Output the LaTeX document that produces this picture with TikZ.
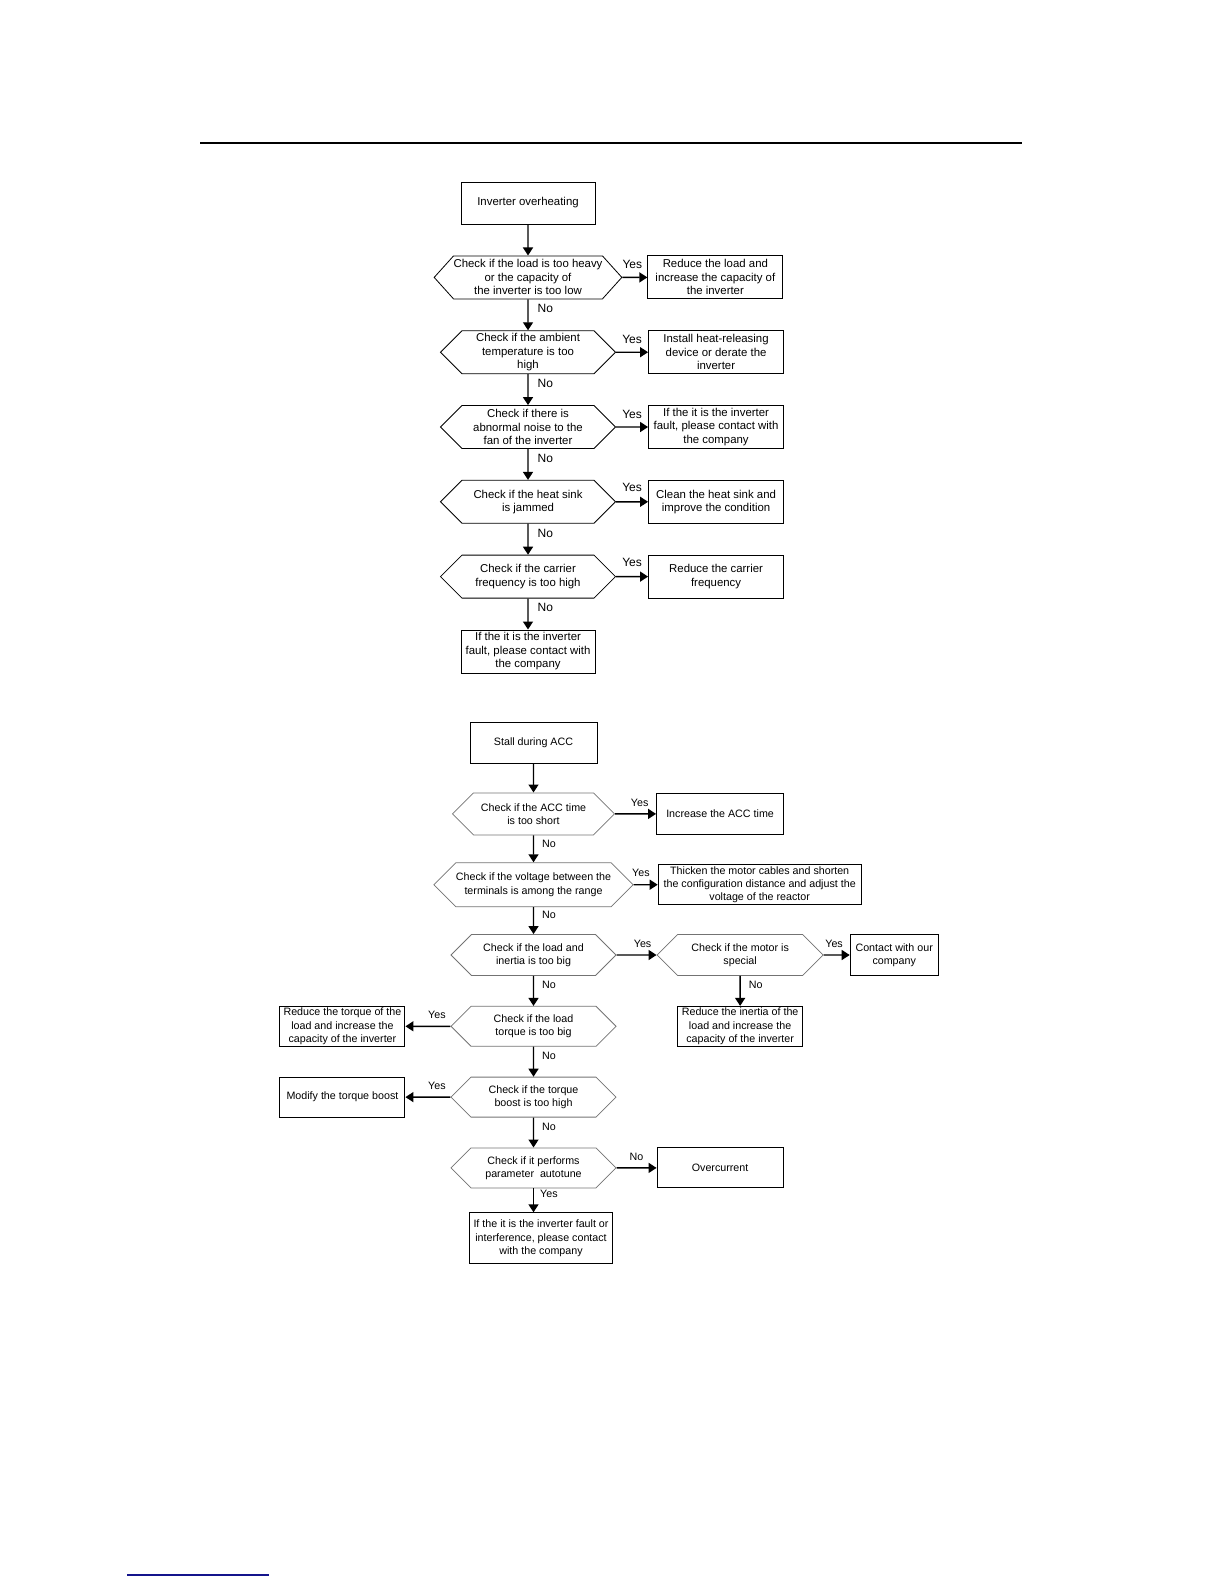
\documentclass[tikz,border=0pt]{standalone}
\usepackage{fontspec}
\setmainfont{Liberation Sans}
\usepackage{tikz}
\usetikzlibrary{arrows.meta,positioning,shapes.symbols}
\definecolor{linkblue}{RGB}{20,20,140}
\newcommand{\heatfont}{\fontsize{5.7}{6.75}\selectfont}
\newcommand{\stallfont}{\fontsize{5.35}{6.6}\selectfont}
\tikzset{
    stepbox/.style={
        draw,
        line width=0.5pt,
        align=center,
        font=\heatfont,
        inner sep=1pt,
        minimum height=21.5pt
    },
    checkbox/.style={
        signal,
        signal to=east and west,
        signal pointer angle=90,
        draw,
        line width=0.4pt,
        align=center,
        font=\heatfont,
        inner xsep=0pt,
        inner ysep=1pt,
        minimum height=21.5pt
    },
    stallpart/.style={
        font=\stallfont,
        inner ysep=0.5pt
    },
    flow/.style={
        -{Triangle[length=4pt,width=5pt]},
        line width=0.7pt
    },
    answer/.style={
        font=\fontsize{6}{7}\selectfont,
        inner sep=1pt
    }
}

\begin{document}
\begin{tikzpicture}[x=0.5pt, y=-0.5pt, node distance=15.5pt and 16pt]
        \useasboundingbox (0,0) rectangle (1224,1584);
        \draw[line width=1.3pt] (200,143) -- (1022,143);
        \draw[linkblue, line width=0.6pt] (127,1575) -- (269,1575);

        % inverter overheating
        \node[stepbox, minimum width=67pt, minimum height=21pt] (heat) at (528,203) {Inverter overheating};
        \node[checkbox, signal pointer angle=96, minimum width=93pt, below=of heat] (load) {
            Check if the load is too heavy\\
            or the capacity of\\
            the inverter is too low
        };
        \node[stepbox, minimum width=67.5pt, right=12.5pt of load] (reduceload) {
            Reduce the load and\\
            increase the capacity of\\
            the inverter
        };
        \node[checkbox, minimum width=87.5pt, below=of load] (ambient) {
            Check if the ambient\\
            temperature is too\\
            high
        };
        \node[stepbox, minimum width=67.5pt, right=16pt of ambient] (install) {
            Install heat-releasing\\
            device or derate the\\
            inverter
        };
        \node[checkbox, minimum width=87.5pt, below=of ambient] (noise) {
            Check if there is\\
            abnormal noise to the\\
            fan of the inverter
        };
        \node[stepbox, minimum width=67.5pt, right=16pt of noise] (faulta) {
            If the it is the inverter\\
            fault, please contact with\\
            the company
        };
        \node[checkbox, minimum width=87.5pt, below=of noise] (sink) {
            Check if the heat sink\\
            is jammed
        };
        \node[stepbox, minimum width=67.5pt, right=16pt of sink] (clean) {
            Clean the heat sink and\\
            improve the condition
        };
        \node[checkbox, minimum width=87.5pt, below=of sink] (carrier) {
            Check if the carrier\\
            frequency is too high
        };
        \node[stepbox, minimum width=67.5pt, right=16pt of carrier] (reducecarrier) {
            Reduce the carrier\\
            frequency
        };
        \node[stepbox, minimum width=67pt, below=of carrier] (faultb) {
            If the it is the inverter\\
            fault, please contact with\\
            the company
        };

        \draw[flow] (heat) -- (load);
        \draw[flow] (load) -- node[answer, above=3pt, pos=0.4] {Yes} (reduceload);
        \draw[flow] (load) -- node[answer, right=3.5pt, pos=0.3] {No} (ambient);
        \draw[flow] (ambient) -- node[answer, above=3pt] {Yes} (install);
        \draw[flow] (ambient) -- node[answer, right=3.5pt, pos=0.3] {No} (noise);
        \draw[flow] (noise) -- node[answer, above=3pt] {Yes} (faulta);
        \draw[flow] (noise) -- node[answer, right=3.5pt, pos=0.3] {No} (sink);
        \draw[flow] (sink) -- node[answer, above=3.5pt] {Yes} (clean);
        \draw[flow] (sink) -- node[answer, right=3.5pt, pos=0.3] {No} (carrier);
        \draw[flow] (carrier) -- node[answer, above=3.5pt] {Yes} (reducecarrier);
        \draw[flow] (carrier) -- node[answer, right=3.5pt, pos=0.3] {No} (faultb);

        % stall during acceleration
        \node[stepbox, stallpart, minimum width=63.5pt, minimum height=20.5pt] (stall) at (533.5,742.5) {Stall during ACC};
        \node[checkbox, stallpart, draw=black!55, minimum width=81pt, minimum height=21pt, below=14.5pt of stall] (acctime) {
            Check if the ACC time\\
            is too short
        };
        \node[stepbox, stallpart, minimum width=63.5pt, minimum height=20.5pt, right=20.5pt of acctime] (incacc) {Increase the ACC time};
        \node[checkbox, stallpart, draw=black!55, minimum width=98.5pt, minimum height=22pt, below=13.5pt of acctime] (voltage) {
            Check if the voltage between the\\
            terminals is among the range
        };
        \node[stepbox, stallpart, minimum width=101.5pt, minimum height=20pt, right=12pt of voltage] (cables) {
            Thicken the motor cables and shorten\\
            the configuration distance and adjust the\\
            voltage of the reactor
        };
        \node[checkbox, stallpart, draw=black!55, minimum width=82.5pt, minimum height=20.5pt, below=13.5pt of voltage] (inertia) {
            Check if the load and\\
            inertia is too big
        };
        \node[checkbox, stallpart, draw=black!55, minimum width=83pt, minimum height=20.5pt, right=20pt of inertia] (motor) {
            Check if the motor is\\
            special
        };
        \node[stepbox, stallpart, minimum width=44pt, minimum height=20.5pt, right=13pt of motor] (contact) {
            Contact with our\\
            company
        };
        \node[stepbox, stallpart, minimum width=62.5pt, minimum height=20pt, below=15pt of motor] (reduceinertia) {
            Reduce the inertia of the\\
            load and increase the\\
            capacity of the inverter
        };
        \node[checkbox, stallpart, draw=black!55, minimum width=82.5pt, minimum height=20pt, below=15pt of inertia] (torque) {
            Check if the load\\
            torque is too big
        };
        \node[stepbox, stallpart, minimum width=62.5pt, minimum height=20pt, left=22.5pt of torque] (reducetorque) {
            Reduce the torque of the\\
            load and increase the\\
            capacity of the inverter
        };
        \node[checkbox, stallpart, draw=black!55, minimum width=82.5pt, minimum height=20pt, below=15pt of torque] (boost) {
            Check if the torque\\
            boost is too high
        };
        \node[stepbox, stallpart, minimum width=62.5pt, minimum height=20pt, left=22.5pt of boost] (modify) {Modify the torque boost};
        \node[checkbox, stallpart, draw=black!55, minimum width=82.5pt, minimum height=20pt, below=15pt of boost] (autotune) {
            Check if it performs\\
            parameter\ \ autotune
        };
        \node[stepbox, stallpart, minimum width=63pt, minimum height=20pt, right=20pt of autotune] (overcurrent) {Overcurrent};
        \node[stepbox, stallpart, minimum width=71.5pt, minimum height=25.5pt, below=12pt of autotune, xshift=3.75pt] (faultc) {
            If the it is the inverter fault or\\
            interference, please contact\\
            with the company
        };

        \draw[flow] (stall) -- (acctime);
        \draw[flow] (acctime) -- node[answer, stallpart, above=3pt, pos=0.6] {Yes} (incacc);
        \draw[flow] (acctime) -- node[answer, stallpart, right=3pt, pos=0.3] {No} (voltage);
        \draw[flow] (voltage) -- node[answer, stallpart, above=3pt, pos=0.3] {Yes} (cables);
        \draw[flow] (voltage) -- node[answer, stallpart, right=3pt, pos=0.3] {No} (inertia);
        \draw[flow] (inertia) -- node[answer, stallpart, above=3pt, pos=0.65] {Yes} (motor);
        \draw[flow] (motor) -- node[answer, stallpart, above=3pt, pos=0.4] {Yes} (contact);
        \draw[flow] (motor) -- node[answer, stallpart, right=3pt, pos=0.3] {No} (reduceinertia);
        \draw[flow] (inertia) -- node[answer, stallpart, right=3pt, pos=0.3] {No} (torque);
        \draw[flow] (torque) -- node[answer, stallpart, above=3pt, pos=0.3] {Yes} (reducetorque);
        \draw[flow] (torque) -- node[answer, stallpart, right=3pt, pos=0.3] {No} (boost);
        \draw[flow] (boost) -- node[answer, stallpart, above=3pt, pos=0.3] {Yes} (modify);
        \draw[flow] (boost) -- node[answer, stallpart, right=3pt, pos=0.3] {No} (autotune);
        \draw[flow] (autotune) -- node[answer, stallpart, above=3pt] {No} (overcurrent);
        \draw[flow] (autotune.south) -- node[answer, stallpart, right=2pt, pos=0.25] {Yes} (autotune.south |- faultc.north);
    \end{tikzpicture}
\end{document}
